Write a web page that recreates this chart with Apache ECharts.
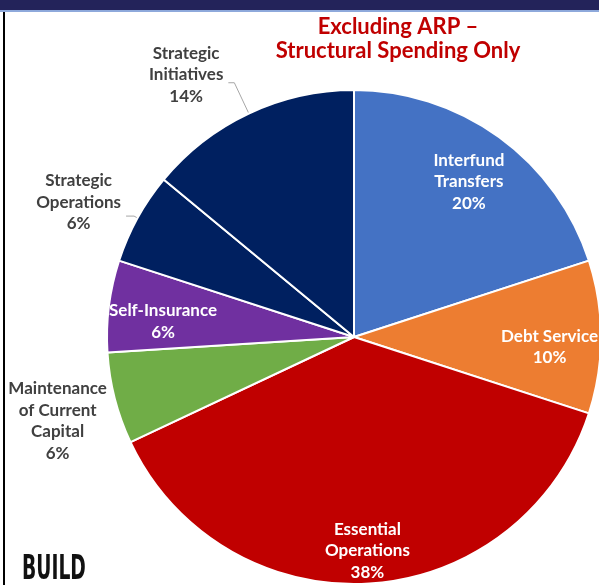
<!DOCTYPE html>
<html>
<head>
<meta charset="utf-8" />
<title>Structural Spending</title>
<script src="https://cdn.jsdelivr.net/npm/echarts@6/dist/echarts.min.js"></script>
<style>
  html, body { margin: 0; padding: 0; background: #fff; }
  #main { width: 599px; height: 585px; }
</style>
</head>
<body>
<div id="main"></div>
<script>
// slice names (line breaks as on the slide) and shares in percent
var categories = ['Interfund\nTransfers', 'Debt Service', 'Essential\nOperations',
  'Maintenance\nof Current\nCapital', 'Self-Insurance', 'Strategic\nOperations', 'Strategic\nInitiatives'];
var shares = [20, 10, 38, 6, 6, 6, 14];
var colors = ['#4472C4', '#ED7D31', '#C00000', '#70AD47', '#7030A0', '#002060', '#002060'];

var FONT = 'Lato';
var FS = 17;
var R = 247;
var CENTER = [354, 337];

// labels inside the slice: ring they sit in, and a small nudge
var inside = {
  'Interfund\nTransfers': { ring: 'A', dx: 0, dy: 3 },
  'Debt Service': { ring: 'A', dx: 0, dy: 10 },
  'Self-Insurance': { ring: 'A', dx: 3, dy: 9 },
  'Essential\nOperations': { ring: 'B', dx: 0, dy: 0 }
};
// outside labels: leader line lengths and text shift
var outside = {
  'Strategic\nInitiatives': { len: 34, len2: 6, pad: [0, 0, 16, 0], line: true },
  'Strategic\nOperations': { len: 4, len2: 8, pad: [0, 0, 28, 0], line: true },
  'Maintenance\nof Current\nCapital': { len: 3, len2: 0, pad: [44, 0, 0, 0], line: false }
};

function pct(p) { return Math.round(p.percent) + '%'; }

var mainData = categories.map(function (c, i) {
  var o = outside[c];
  var item = { name: c, value: shares[i], itemStyle: { color: colors[i] } };
  if (o) {
    item.label = { show: true, padding: o.pad };
    item.labelLine = { show: o.line, length: o.len, length2: o.len2 };
  } else {
    item.label = { show: false };
    item.labelLine = { show: false };
  }
  return item;
});

function ringData(ring) {
  return categories.map(function (c, i) {
    var o = inside[c];
    return {
      name: c, value: shares[i],
      itemStyle: { color: 'rgba(0,0,0,0)' },
      label: { show: !!o && o.ring === ring }
    };
  });
}

function nudge(params) {
  var o = inside[categories[params.dataIndex]];
  return o ? { dx: o.dx, dy: o.dy } : {};
}

var insideLabel = {
  position: 'inside',
  color: '#fff',
  fontFamily: FONT,
  fontWeight: 'bold',
  fontSize: FS,
  lineHeight: 21.5,
  formatter: function (p) { return p.name + '\n' + pct(p); }
};

var chart = echarts.init(document.getElementById('main'));
chart.setOption({
  animation: false,
  title: {
    text: 'Excluding ARP –\nStructural Spending Only',
    left: 398,
    top: 15,
    padding: 0,
    textAlign: 'center',
    textStyle: {
      color: '#C00000', fontFamily: FONT, fontWeight: 'bold',
      fontSize: 22, lineHeight: 24
    }
  },
  graphic: [
    { type: 'rect', shape: { x: 0, y: 0, width: 599, height: 10 }, style: { fill: '#23235A' } },
    { type: 'rect', shape: { x: 0, y: 10, width: 599, height: 2 }, style: { fill: '#8EA9DB' } },
    { type: 'rect', shape: { x: 3, y: 12, width: 2, height: 573 }, style: { fill: '#000' } },
    {
      type: 'text', x: 22, y: 570, scaleX: 0.63,
      style: {
        text: 'BUILD', fill: '#111', verticalAlign: 'middle',
        font: 'bold 33px "DejaVu Sans Condensed"'
      }
    }
  ],
  series: [
    {
      type: 'pie',
      center: CENTER,
      radius: R,
      startAngle: 90,
      clockwise: true,
      avoidLabelOverlap: false,
      silent: true,
      itemStyle: { borderColor: '#fff', borderWidth: 2 },
      label: {
        position: 'outside',
        color: '#404040',
        fontFamily: FONT,
        fontWeight: 'bold',
        fontSize: FS,
        bleedMargin: 0,
        formatter: function (p) {
          var lines = p.name.split('\n').concat([pct(p)]);
          return lines.map(function (l) { return '{c|' + l + '}'; }).join('\n');
        },
        rich: {
          c: { align: 'center', color: '#404040', fontFamily: FONT, fontWeight: 'bold', fontSize: FS, lineHeight: 21.5 }
        }
      },
      labelLine: { lineStyle: { color: '#A6A6A6', width: 1 } },
      data: mainData
    },
    {
      type: 'pie', center: CENTER, radius: [138, R], startAngle: 90,
      silent: true, z: 3, avoidLabelOverlap: false,
      label: insideLabel, labelLine: { show: false },
      labelLayout: nudge,
      emphasis: { disabled: true },
      data: ringData('A')
    },
    {
      type: 'pie', center: CENTER, radius: [175, R], startAngle: 90,
      silent: true, z: 3, avoidLabelOverlap: false,
      label: insideLabel, labelLine: { show: false },
      emphasis: { disabled: true },
      data: ringData('B')
    }
  ]
});
</script>
</body>
</html>
